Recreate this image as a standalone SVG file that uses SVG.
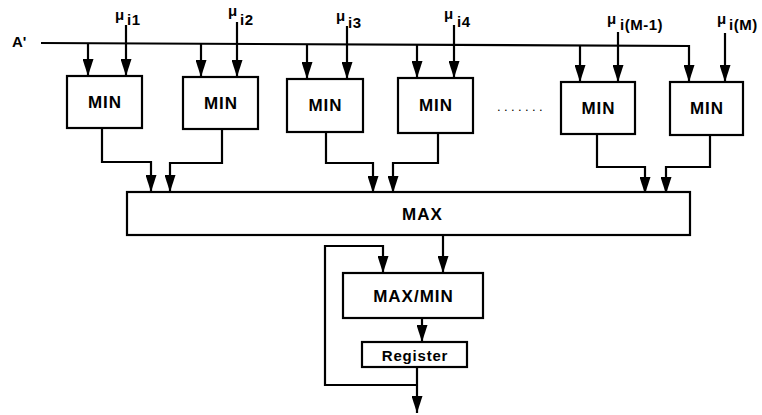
<svg xmlns="http://www.w3.org/2000/svg" width="762" height="415" viewBox="0 0 762 415">
<style>
.box{fill:#fff;stroke:#000;stroke-width:2.2}
.lbl{font-family:"Liberation Sans",Arial,sans-serif;font-weight:bold;font-size:17px;letter-spacing:1px;text-anchor:middle;dominant-baseline:central;fill:#000}
.mu{font-family:"Liberation Sans",Arial,sans-serif;font-weight:bold;font-size:15px;fill:#000}
.sub{font-family:"Liberation Sans",Arial,sans-serif;font-weight:bold;font-size:15px;letter-spacing:0.5px;fill:#000}
.ar{fill:none;stroke:#000;stroke-width:2.2;marker-end:url(#ah)}
</style>
<defs>
<marker id="ah" markerUnits="userSpaceOnUse" viewBox="0 0 17 11" refX="17" refY="5.5" markerWidth="17" markerHeight="11" orient="auto">
<path d="M0,0 L17,5.5 L0,11 z" fill="#000"/>
</marker>
</defs>
<rect width="762" height="415" fill="#fff"/>
<g id="inputs">
<text x="12" y="47" class="mu">A'</text>
<text x="115" y="20" class="mu">μ</text><text x="127" y="25" class="sub">i1</text>
<text x="228" y="16" class="mu">μ</text><text x="240" y="25" class="sub">i2</text>
<text x="336" y="21" class="mu">μ</text><text x="348" y="28" class="sub">i3</text>
<text x="444" y="19" class="mu">μ</text><text x="457" y="27" class="sub">i4</text>
<text x="607" y="24" class="mu">μ</text><text x="620" y="30" class="sub">i(M-1)</text>
<text x="717" y="24" class="mu">μ</text><text x="729" y="30" class="sub">i(M)</text>
<text x="497" y="111" class="sub" style="font-weight:normal;font-size:13px;letter-spacing:3.4px">.......</text>
</g>
<g id="connectors">
<path class="ar" d="M41,43 L689,46 L689,82"/>
<path class="ar" d="M88,43 V76"/>
<path class="ar" d="M201,43.3 V77"/>
<path class="ar" d="M307,44 V79"/>
<path class="ar" d="M417,44.5 V78"/>
<path class="ar" d="M580,45.5 V82"/>
<path class="ar" d="M126,25 V76"/>
<path class="ar" d="M237,22 V77"/>
<path class="ar" d="M347,26 V79"/>
<path class="ar" d="M454,25 V78"/>
<path class="ar" d="M618,32 V82"/>
<path class="ar" d="M725,33 V82"/>
<path class="ar" d="M102,128 V162 H151 V192"/>
<path class="ar" d="M222,129 V163 H170 V192"/>
<path class="ar" d="M326,132 V163 H373 V193"/>
<path class="ar" d="M438,133 V163 H393 V193"/>
<path class="ar" d="M597,134 V167 H645 V194"/>
<path class="ar" d="M710,135 V167 H666 V194"/>
<path class="ar" d="M443,235 V273"/>
<path class="ar" d="M422,318 V342"/>
<path class="ar" d="M417,367 V413"/>
<path class="ar" d="M417,385 H325 V246 H383 V273"/>
</g>
<g id="min1"><rect class="box" x="67" y="76" width="75" height="52"/><text class="lbl" x="105" y="102">MIN</text></g>
<g id="min2"><rect class="box" x="183" y="77" width="75" height="52"/><text class="lbl" x="221" y="103">MIN</text></g>
<g id="min3"><rect class="box" x="287" y="79" width="76" height="53"/><text class="lbl" x="325.5" y="105">MIN</text></g>
<g id="min4"><rect class="box" x="398" y="78" width="75" height="55"/><text class="lbl" x="436" y="105">MIN</text></g>
<g id="min5"><rect class="box" x="561" y="82" width="74" height="52"/><text class="lbl" x="598.5" y="108">MIN</text></g>
<g id="min6"><rect class="box" x="670" y="82" width="73" height="53"/><text class="lbl" x="707" y="108">MIN</text></g>
<g id="max"><rect class="box" x="127" y="192" width="563" height="43"/><text class="lbl" x="422.5" y="214">MAX</text></g>
<g id="maxmin"><rect class="box" x="343" y="273" width="140" height="45"/><text class="lbl" x="413.5" y="296">MAX/MIN</text></g>
<g id="register"><rect class="box" x="362" y="342" width="105" height="25"/><text class="lbl" x="415" y="355" style="font-size:15px;letter-spacing:0.8px">Register</text></g>
</svg>
